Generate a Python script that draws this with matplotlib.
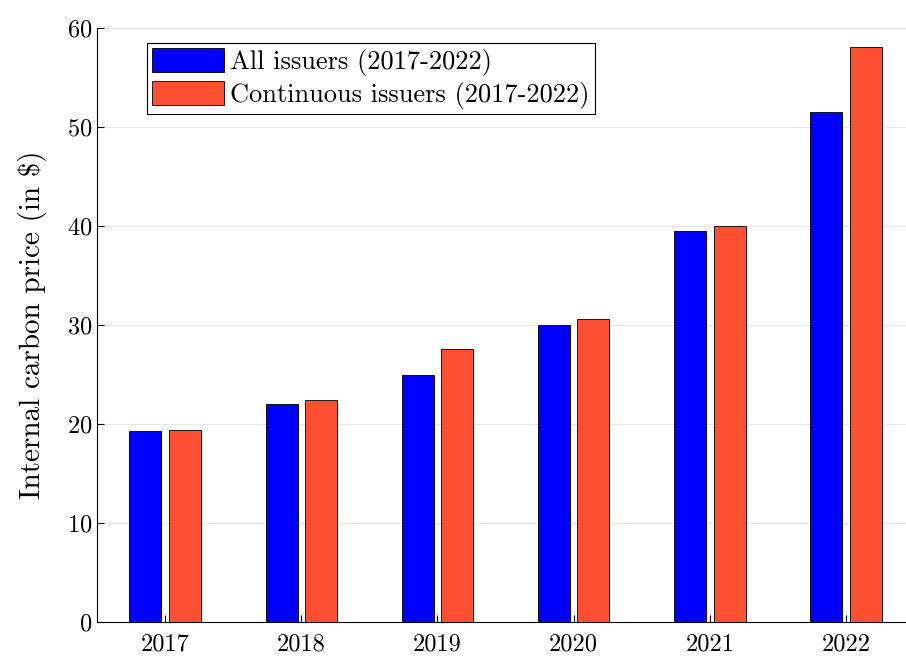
import matplotlib
matplotlib.use("Agg")
import matplotlib.pyplot as plt
import numpy as np

years = [2017, 2018, 2019, 2020, 2021, 2022]
all_issuers = [19.3, 22.0, 25.0, 30.0, 39.5, 51.5]
continuous = [19.4, 22.4, 27.6, 30.6, 40.0, 58.1]

plt.rcParams['font.family'] = 'serif'
plt.rcParams['font.serif'] = ['cmr10']
plt.rcParams['mathtext.fontset'] = 'cm'
plt.rcParams['axes.formatter.use_mathtext'] = True

fig = plt.figure(figsize=(9.06, 6.60), dpi=100)
ax = fig.add_axes([97/906, 1-622/660, (906-97)/906, (622-28)/660])
x = np.array(years, dtype=float)
w = 0.235
off = 0.145
ax.bar(x - off, all_issuers, w, color='#0000FF', edgecolor='black', linewidth=0.6,
       label='All issuers (2017-2022)', zorder=3)
ax.bar(x + off, continuous, w, color='#FF4F33', edgecolor='black', linewidth=0.6,
       label='Continuous issuers (2017-2022)', zorder=3)
ax.set_xlim(2016.5, 2022.44)
ax.set_ylim(0, 60)
ax.set_xticks(years)
ax.set_xticklabels([str(y) for y in years])
ax.set_yticks(range(0, 61, 10))
ax.grid(axis='y', color='#e6e6e6', linewidth=0.8, zorder=0)
for s in ['top', 'right']:
    ax.spines[s].set_visible(False)
ax.tick_params(direction='in', labelsize=17.5, length=5)
ax.tick_params(axis='x', pad=8)
ax.set_ylabel('Internal carbon price (in \\$)', fontsize=21, labelpad=14)
leg = ax.legend(loc='upper left', bbox_to_anchor=(0.062, 0.975), fontsize=19, fancybox=False,
                edgecolor='black', framealpha=1, borderpad=0.2, handlelength=2.7,
                handleheight=1.0, handletextpad=0.25, labelspacing=0.2, borderaxespad=0)
leg.get_frame().set_linewidth(0.8)
fig.savefig('out.png', dpi=100)
